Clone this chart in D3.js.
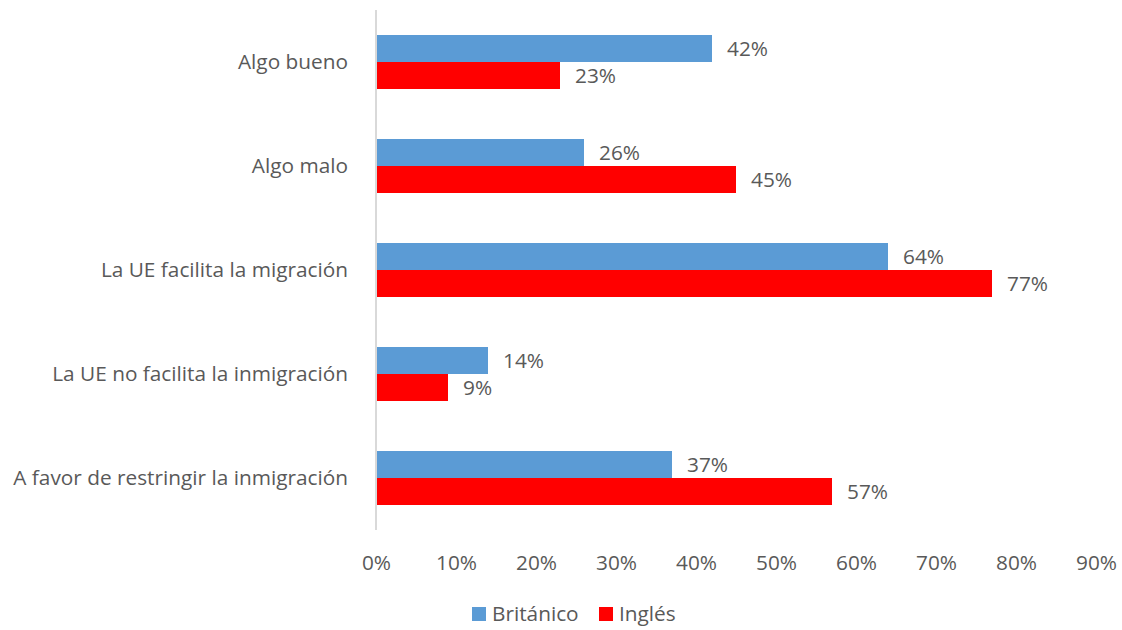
<!DOCTYPE html>
<html><head><meta charset="utf-8">
<script src="https://cdn.jsdelivr.net/npm/d3@7"></script>
<style>body{margin:0;background:#fff}svg{display:block}text{font-family:"Open Sans",sans-serif;fill:#595959}</style>
</head><body><svg id="c" width="1122" height="630"></svg>
<script>
const categories = ["Algo bueno","Algo malo","La UE facilita la migración","La UE no facilita la inmigración","A favor de restringir la inmigración"];
const seriesNames = ["Británico","Inglés"];
const britanico = [42,26,64,14,37];
const ingles = [23,45,77,9,57];
const tickValues = [0,10,20,30,40,50,60,70,80,90];
const colors = ["#5b9bd5","#ff0000"];
const FS = 20.8;

const svg = d3.select("#c");
const x = d3.scaleLinear().domain([0,90]).range([376,1096]);
const y = d3.scaleBand().domain(categories).range([10,530]).paddingInner(0).paddingOuter(0);
const inner = d3.scaleBand().domain(seriesNames).range([y.bandwidth()/2-27, y.bandwidth()/2+27]);

svg.append("line").attr("x1",x(0)).attr("x2",x(0)).attr("y1",10).attr("y2",530).attr("stroke","#d9d9d9").attr("stroke-width",2);

const series = [britanico, ingles];
series.forEach((vals,si)=>{
  const g = svg.append("g");
  g.selectAll("rect").data(vals).join("rect")
    .attr("x",x(0)+1).attr("y",(d,i)=>y(categories[i])+inner(seriesNames[si]))
    .attr("width",d=>x(d)-x(0)-1).attr("height",inner.bandwidth())
    .attr("fill",colors[si]);
  g.selectAll("text").data(vals).join("text")
    .attr("x",d=>x(d)+15).attr("y",(d,i)=>y(categories[i])+inner(seriesNames[si])+inner.bandwidth()/2)
    .attr("dy","0.35em").attr("font-size",FS).text(d=>d+"%");
});

svg.selectAll("text.cat").data(categories).join("text").attr("class","cat")
  .attr("x",348).attr("y",d=>y(d)+y.bandwidth()/2).attr("dy","0.35em")
  .attr("text-anchor","end").attr("font-size",FS).text(d=>d);

const ax = svg.append("g").attr("transform","translate(0,563)")
  .call(d3.axisBottom(x).tickValues(tickValues).tickFormat(d=>d+"%").tickSize(0).tickPadding(0));
ax.select(".domain").remove();
ax.selectAll("text").attr("font-size",FS).attr("dy","0.35em").attr("y",0).style("font-family","'Open Sans',sans-serif").attr("fill","#595959");

const leg = svg.append("g");
const legX = [472, 599];
seriesNames.forEach((n,i)=>{
  leg.append("rect").attr("x",legX[i]).attr("y",607).attr("width",14).attr("height",14).attr("fill",colors[i]);
  leg.append("text").attr("x",legX[i]+20).attr("y",614).attr("dy","0.35em").attr("font-size",FS).text(n);
});
</script></body></html>
